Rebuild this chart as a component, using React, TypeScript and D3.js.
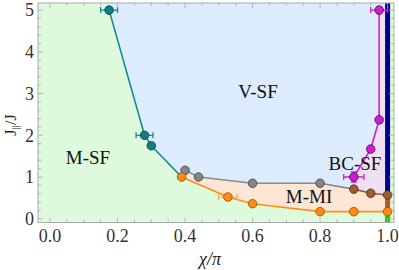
import React from 'react'
import * as d3 from 'd3'

type Pt = { x: number; y: number; xe?: number; ye?: number }

// boundary between M-SF and V-SF
const tealPts: Pt[] = [
  { x: 0.175, y: 5.0, xe: 0.025 },
  { x: 0.28, y: 2.0, xe: 0.025 },
  { x: 0.30, y: 1.75 },
]
// lower edge of M-MI
const orangePts: Pt[] = [
  { x: 0.39, y: 1.0 },
  { x: 0.527, y: 0.52, xe: 0.028 },
  { x: 0.60, y: 0.36 },
  { x: 0.80, y: 0.17 },
  { x: 0.90, y: 0.17 },
  { x: 1.0, y: 0.17 },
]
// upper edge of M-MI (gray part)
const grayPts: Pt[] = [
  { x: 0.40, y: 1.16 },
  { x: 0.44, y: 1.0 },
  { x: 0.60, y: 0.85 },
  { x: 0.80, y: 0.85 },
]
// upper edge of M-MI (brown part)
const brownPts: Pt[] = [
  { x: 0.90, y: 0.71, ye: 0.06 },
  { x: 0.95, y: 0.61, ye: 0.05 },
  { x: 1.0, y: 0.57 },
]
// BC-SF boundary
const magentaPts: Pt[] = [
  { x: 0.975, y: 5.0, xe: 0.025 },
  { x: 0.975, y: 2.37 },
  { x: 0.95, y: 1.67 },
  { x: 0.90, y: 1.0, xe: 0.03, ye: 0.12 },
]
const xTicks = [0, 0.2, 0.4, 0.6, 0.8, 1.0]
const yTicks = [0, 1, 2, 3, 4, 5]

const W = 399
const H = 270
const font = "'Liberation Serif', 'Times New Roman', 'DejaVu Serif', serif"

const App: React.FC = () => {
  const x = d3.scaleLinear().domain([-0.0356, 1.019]).range([38, 394])
  const y = d3.scaleLinear().domain([-0.09, 5.17]).range([222.5, 3])
  const [y0, y1] = y.domain()
  const line = d3.line<Pt>().x(d => x(d.x)).y(d => y(d.y))
  const poly = (pts: [number, number][]) =>
    'M' + pts.map(p => `${x(p[0])},${y(p[1])}`).join('L') + 'Z'

  const t0 = tealPts[0], t1 = tealPts[1]
  const tealTopX = t0.x + (t0.x - t1.x) / (t0.y - t1.y) * (y1 - t0.y)
  const mTop = magentaPts[0]
  const corner = orangePts[0]
  const xy = (p: Pt) => [p.x, p.y] as [number, number]

  const vsf: [number, number][] = [
    [tealTopX, y1],
    [mTop.x, y1],
    ...magentaPts.map(xy),
    xy(brownPts[0]),
    ...grayPts.slice().reverse().map(xy),
    xy(corner),
    ...tealPts.slice().reverse().map(xy),
  ]
  const bcsf: [number, number][] = [
    [mTop.x, y1],
    ...magentaPts.map(xy),
    ...brownPts.map(xy),
    [1.0, y1],
  ]
  const mmi: [number, number][] = [
    xy(corner),
    ...grayPts.map(xy),
    ...brownPts.map(xy),
    ...orangePts.slice().reverse().map(xy),
  ]

  const minorX = d3.range(0, 1.0001, 0.05)
  const minorY = d3.range(0, 5.1, 0.2)
  const barW = 5
  const last = orangePts[orangePts.length - 1]
  const brownLast = brownPts[brownPts.length - 1]

  const markers = (pts: Pt[], fill: string, stroke: string, ebar: string, r = 4.3) => (
    <g>
      {pts.map((p, i) => (
        <g key={i}>
          {p.xe ? (
            <g stroke={ebar} strokeWidth={1.3}>
              <line x1={x(p.x - p.xe)} x2={x(p.x + p.xe)} y1={y(p.y)} y2={y(p.y)} />
              <line x1={x(p.x - p.xe)} x2={x(p.x - p.xe)} y1={y(p.y) - 3} y2={y(p.y) + 3} />
              <line x1={x(p.x + p.xe)} x2={x(p.x + p.xe)} y1={y(p.y) - 3} y2={y(p.y) + 3} />
            </g>
          ) : null}
          {p.ye ? (
            <g stroke={ebar} strokeWidth={1.3}>
              <line x1={x(p.x)} x2={x(p.x)} y1={y(p.y - p.ye)} y2={y(p.y + p.ye)} />
              <line x1={x(p.x) - 3} x2={x(p.x) + 3} y1={y(p.y - p.ye)} y2={y(p.y - p.ye)} />
              <line x1={x(p.x) - 3} x2={x(p.x) + 3} y1={y(p.y + p.ye)} y2={y(p.y + p.ye)} />
            </g>
          ) : null}
          <circle cx={x(p.x)} cy={y(p.y)} r={r} fill={fill} stroke={stroke} strokeWidth={0.8} />
        </g>
      ))}
    </g>
  )

  const txt = { fontFamily: font }

  return (
    <svg width={W} height={H} style={{ position: 'absolute', left: 0, top: 0, fontFamily: font }}>
      <defs>
        <clipPath id="plot">
          <rect x={x(-0.0356)} y={y(y1)} width={x(1.019) - x(-0.0356)} height={y(y0) - y(y1)} />
        </clipPath>
      </defs>
      <g clipPath="url(#plot)">
        <rect x={0} y={0} width={W} height={H} fill="#ddfbdc" />
        <path d={poly(vsf)} fill="#dcebfd" />
        <path d={poly(bcsf)} fill="#eee0f1" />
        <path d={poly(mmi)} fill="#fde6d3" />
        {/* vertical bars at x = 1 */}
        <rect x={x(1.0) - barW / 2} y={y(y1)} width={barW} height={y(brownLast.y) - y(y1)} fill="#00008b" />
        <rect x={x(1.0) - barW / 2} y={y(brownLast.y)} width={barW} height={y(last.y) - y(brownLast.y)} fill="#a8602a" />
        <rect x={x(1.0) - barW / 2} y={y(last.y)} width={barW} height={y(y0) - y(last.y)} fill="#1fc01f" />
        {/* lines */}
        <path d={line([...tealPts, corner]) ?? ''} fill="none" stroke="#158a8a" strokeWidth={1.6} />
        <path d={line(orangePts) ?? ''} fill="none" stroke="#ff8c1a" strokeWidth={1.6} />
        <path d={line([corner, ...grayPts, brownPts[0]]) ?? ''} fill="none" stroke="#8a8a8a" strokeWidth={1.6} />
        <path d={line(brownPts) ?? ''} fill="none" stroke="#9a5a28" strokeWidth={1.6} />
        <path d={line(magentaPts) ?? ''} fill="none" stroke="#d21fd2" strokeWidth={1.6} />
        {/* markers */}
        {markers(grayPts, '#858585', '#404040', '#858585')}
        {markers(brownPts, '#9a5f2e', '#4a2a10', '#7a4a20')}
        {markers(orangePts, '#ff8a14', '#8a4a00', '#ffb060')}
        {markers(tealPts, '#117f7f', '#0a3f3f', '#158a8a')}
        {markers(magentaPts, '#cc1fcc', '#5a005a', '#d21fd2')}
      </g>
      {/* frame */}
      <rect x={x(-0.0356)} y={y(y1)} width={x(1.019) - x(-0.0356)} height={y(y0) - y(y1)} fill="none" stroke="#aaaaaa" strokeWidth={1} />
      <g stroke="#aaaaaa" strokeWidth={0.8}>
        {minorX.map((v, i) => {
          const major = xTicks.some(t => Math.abs(t - v) < 1e-6)
          const l = major ? 5 : 3
          return (
            <g key={'x' + i}>
              <line x1={x(v)} x2={x(v)} y1={y(y0)} y2={y(y0) - l} />
              <line x1={x(v)} x2={x(v)} y1={y(y1)} y2={y(y1) + l} />
            </g>
          )
        })}
        {minorY.map((v, i) => {
          const major = yTicks.some(t => Math.abs(t - v) < 1e-6)
          const l = major ? 5 : 3
          return (
            <g key={'y' + i}>
              <line x1={x(-0.0356)} x2={x(-0.0356) + l} y1={y(v)} y2={y(v)} />
              <line x1={x(1.019)} x2={x(1.019) - l} y1={y(v)} y2={y(v)} />
            </g>
          )
        })}
      </g>
      {xTicks.map(t => (
        <text key={t} style={txt} x={x(t)} y={y(y0) + 19} textAnchor="middle" fontSize={18} fill="#333">
          {d3.format('.1f')(t)}
        </text>
      ))}
      {yTicks.map(t => (
        <text key={t} style={txt} x={34} y={y(t)} dy="0.35em" textAnchor="end" fontSize={18} fill="#333">
          {t}
        </text>
      ))}
      <text style={txt} x={210} y={265} textAnchor="middle" fontSize={18} fontStyle="italic" fill="#222">χ/π</text>
      <text style={txt} transform={`translate(16, 125) rotate(-90)`} textAnchor="middle" fontSize={16} fill="#222">
        J<tspan fontSize={11} dy={3}>||</tspan><tspan dy={-3}>/J</tspan>
      </text>
      {/* phase labels */}
      <text style={txt} x={258} y={98} textAnchor="middle" fontSize={19} fill="#111">V-SF</text>
      <text style={txt} x={88} y={164} textAnchor="middle" fontSize={19} fill="#111">M-SF</text>
      <text style={txt} x={355} y={170} textAnchor="middle" fontSize={19} fill="#111">BC-SF</text>
      <text style={txt} x={309} y={203} textAnchor="middle" fontSize={19} fill="#111">M-MI</text>
    </svg>
  )
}

export default App
